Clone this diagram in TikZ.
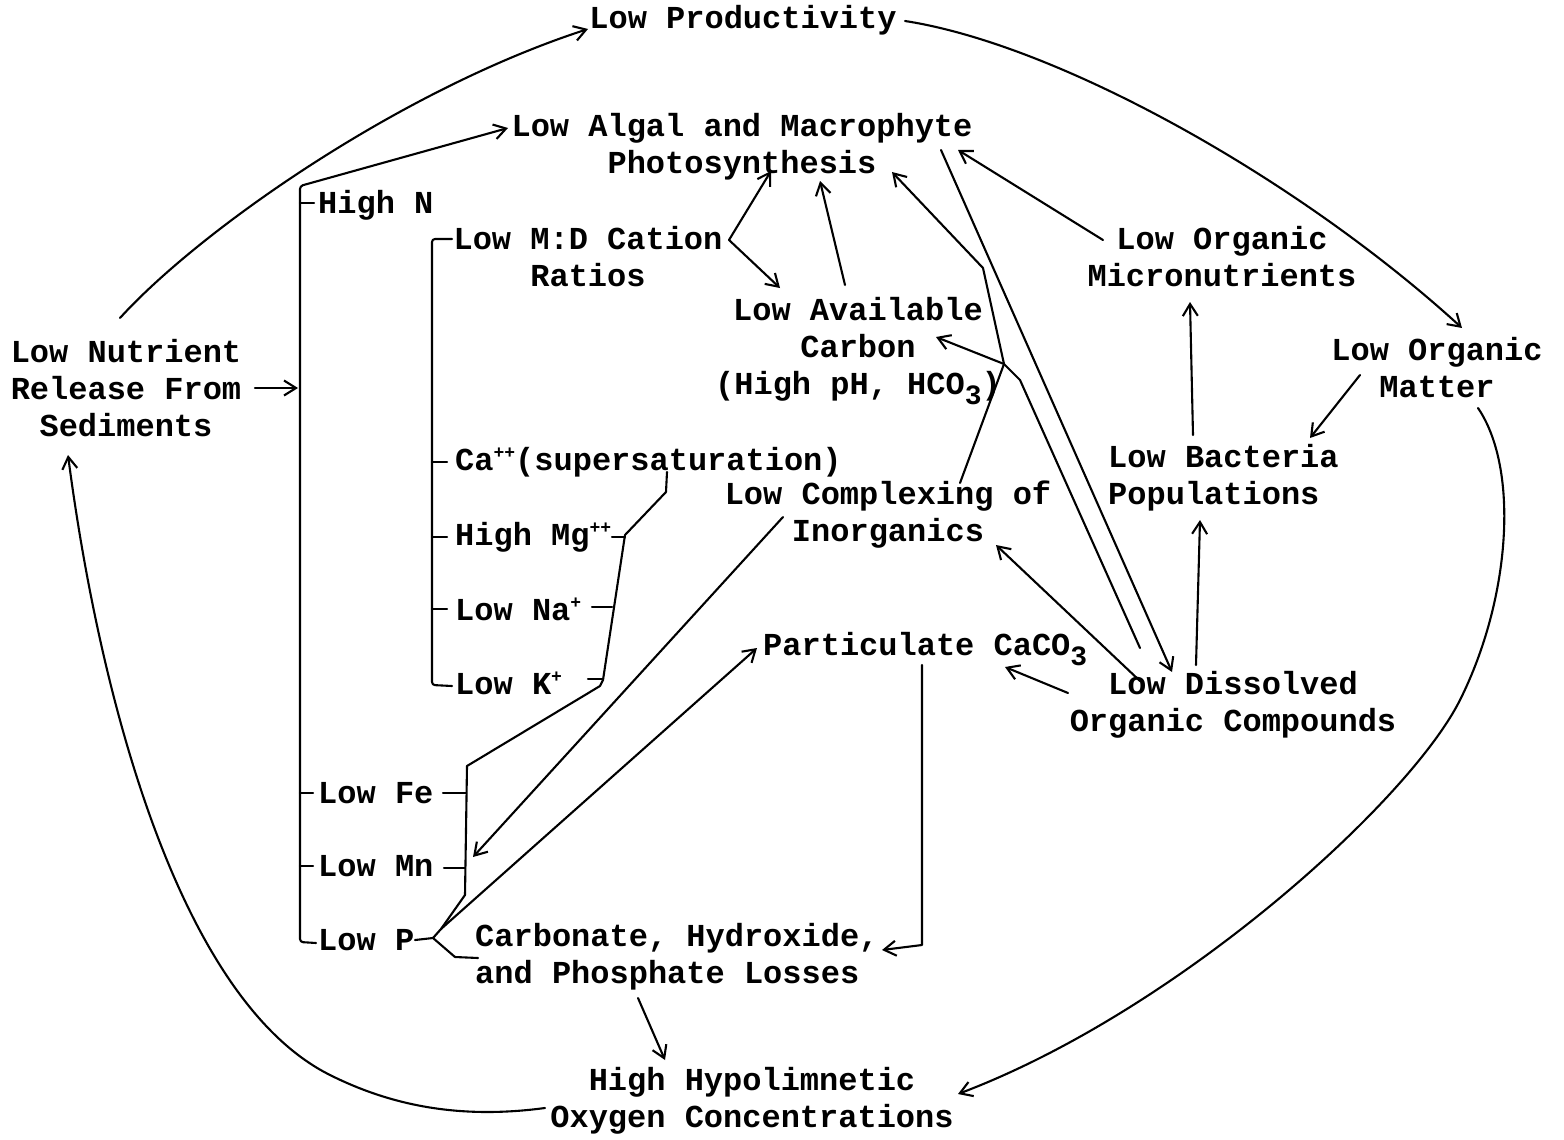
\documentclass[tikz,border=0pt]{standalone}
\usepackage{fontspec}
\setmainfont{Liberation Mono}
\usetikzlibrary{arrows.meta}
\newcommand{\lowsub}[1]{\raisebox{-10pt}{\fontsize{28}{28}\selectfont #1}}
\newcommand{\upsup}[1]{\raisebox{12pt}{\fontsize{18}{18}\selectfont #1}}
\begin{document}
\begin{tikzpicture}[x=1pt,y=-1pt,
  lbl/.style={inner sep=0pt,font=\fontsize{32}{37}\selectfont\bfseries},
  one/.style={lbl,anchor=west,text height=23pt,text depth=2pt},
  ln/.style={line width=2.1pt,line cap=round,line join=round},
  arr/.style={ln,-{Straight Barb[length=12pt,width=15pt]}}]
\useasboundingbox (0,0) rectangle (1564,1140);
\fill[white] (0,0) rectangle (1564,1140);

% ---------------- nodes ----------------
\node[lbl] (prod) at (743,20) {Low Productivity};
\node[lbl,align=center] (photo) at (742,147) {Low Algal and Macrophyte\\Photosynthesis};
\node[one] (highN) at (318,203) {High N};
\node[lbl,align=center] (md) at (588,257) {Low M:D Cation\\Ratios};
\node[lbl,align=center] (carbon) at (858,351) {Low Available\\Carbon\\(High pH, HCO\lowsub{3})};
\node[lbl,align=center] (micro) at (1222,257) {Low Organic\\Micronutrients};
\node[lbl,align=center] (matter) at (1437,368) {Low Organic\\Matter};
\node[lbl,align=center] (sed) at (126,388) {Low Nutrient\\Release From\\Sediments};
\node[one] (ca) at (455,460) {Ca\upsup{++}(supersaturation)};
\node[lbl,align=center] (cplx) at (888,515) {Low Complexing of\\Inorganics};
\node[lbl,align=left,anchor=west] (bact) at (1108,478) {Low Bacteria\\Populations};
\node[one] (mg) at (455,535) {High Mg\upsup{++}};
\node[one] (na) at (455,610) {Low Na\upsup{+}};
\node[one] (part) at (763,645) {Particulate CaCO\lowsub{3}};
\node[one] (k) at (455,684) {Low K\upsup{+}};
\node[lbl,align=center] (dis) at (1233,705) {Low Dissolved\\Organic Compounds};
\node[one] (fe) at (318,793) {Low Fe};
\node[one] (mn) at (318,866) {Low Mn};
\node[one] (p) at (318,940) {Low P};
\node[lbl,align=left,anchor=west] (loss) at (475,957) {Carbonate, Hydroxide,\\and Phosphate Losses};
\node[lbl,align=center] (hyp) at (752,1101) {High Hypolimnetic\\Oxygen Concentrations};

% ---------------- connector ends ----------------
\coordinate (sedTop) at (120,318);
\coordinate (prodIn) at (588,29);
\coordinate (prodOut) at (905,21);
\coordinate (matterIn) at (1462,328);
\coordinate (matterOut) at (1478,408);
\coordinate (hypIn) at (958,1094);
\coordinate (hypOut) at (545,1108);
\coordinate (sedIn) at (68,455);
\coordinate (sedOut) at (255,388);
\coordinate (brIn) at (298,388);
\coordinate (brTop) at (300,186);
\coordinate (photoIn) at (508,128);
\coordinate (pFork) at (433,938);
\coordinate (pUp) at (441,929);
\coordinate (partIn) at (757,648);
\coordinate (cplxOut) at (783,517);
\coordinate (mnIn) at (473,857);
\coordinate (partOut) at (922,665);
\coordinate (lossIn) at (882,950);
\coordinate (lossOut) at (638,998);
\coordinate (hypTop) at (665,1060);
\coordinate (mdOut) at (729,240);
\coordinate (photoA) at (771,171);
\coordinate (carbIn) at (780,288);
\coordinate (carbOut) at (845,285);
\coordinate (photoB) at (820,181);
\coordinate (junc) at (1004,364);
\coordinate (cplxUp) at (960,483);
\coordinate (carbIn2) at (936,337);
\coordinate (photoC) at (892,172);
\coordinate (disUp) at (1140,648);
\coordinate (photoOut) at (941,150);
\coordinate (disIn) at (1172,672);
\coordinate (disOutA) at (1140,681);
\coordinate (cplxIn) at (996,545);
\coordinate (disOutB) at (1068,693);
\coordinate (partIn2) at (1005,667);
\coordinate (disOutC) at (1196,665);
\coordinate (bactIn) at (1200,520);
\coordinate (bactOut) at (1193,435);
\coordinate (microIn) at (1190,302);
\coordinate (matterOut2) at (1360,375);
\coordinate (bactIn2) at (1310,438);
\coordinate (microOut) at (1103,240);
\coordinate (photoD) at (958,150);

% ---------------- big loop ----------------
\draw[arr] (sedTop) .. controls (200,230) and (400,90) .. (prodIn);
\draw[arr] (prodOut) .. controls (1060,45) and (1300,180) .. (matterIn);
\draw[arr] (matterOut) .. controls (1520,470) and (1510,600) .. (1460,700)
   .. controls (1410,800) and (1180,1010) .. (hypIn);
\draw[arr] (hypOut) .. controls (470,1118) and (400,1110) .. (330,1075)
   .. controls (180,1000) and (100,700) .. (sedIn);
\draw[arr] (sedOut) -- (brIn);

% ---------------- outer bracket ----------------
\draw[arr,rounded corners=3pt] (316,943) -- (300,942) -- (brTop) -- (photoIn);
\draw[ln] (300,203) -- (314,203);
\draw[ln] (300,793) -- (313,793);
\draw[ln] (300,866) -- (313,866);

% ---------------- inner bracket ----------------
\draw[ln,rounded corners=3pt] (452,239) -- (432,239) -- (432,685) -- (452,686);
\draw[ln] (432,462) -- (447,462);
\draw[ln] (432,537) -- (447,537);
\draw[ln] (432,609) -- (447,609);

% ---------------- cation / metal chain ----------------
\draw[ln] (667,472) -- (666,492) -- (625,535) -- (603,680) -- (600,686)
   -- (467,766) -- (465,895) -- (pUp) -- (pFork);
\draw[ln] (612,537) -- (625,537);
\draw[ln] (592,607) -- (612,607);
\draw[ln] (588,679) -- (603,679);
\draw[ln] (443,793) -- (466,793);
\draw[ln] (444,868) -- (465,868);
\draw[ln] (415,940) -- (pFork) -- (455,957) -- (478,958);
\draw[arr] (pUp) -- (partIn);

% ---------------- other connectors ----------------
\draw[arr] (cplxOut) -- (mnIn);
\draw[arr] (partOut) -- (922,945) -- (lossIn);
\draw[arr] (lossOut) -- (hypTop);
\draw[arr] (mdOut) -- (photoA);
\draw[arr] (mdOut) -- (carbIn);
\draw[arr] (carbOut) -- (photoB);
\draw[ln] (cplxUp) -- (junc);
\draw[ln] (disUp) -- (1020,380) -- (1012,372) -- (junc);
\draw[arr] (junc) -- (carbIn2);
\draw[arr] (junc) -- (983,268) -- (photoC);
\draw[arr] (photoOut) -- (disIn);
\draw[arr] (disOutA) -- (cplxIn);
\draw[arr] (disOutB) -- (partIn2);
\draw[arr] (disOutC) -- (bactIn);
\draw[arr] (bactOut) -- (microIn);
\draw[arr] (matterOut2) -- (bactIn2);
\draw[arr] (microOut) -- (photoD);
\end{tikzpicture}
\end{document}
